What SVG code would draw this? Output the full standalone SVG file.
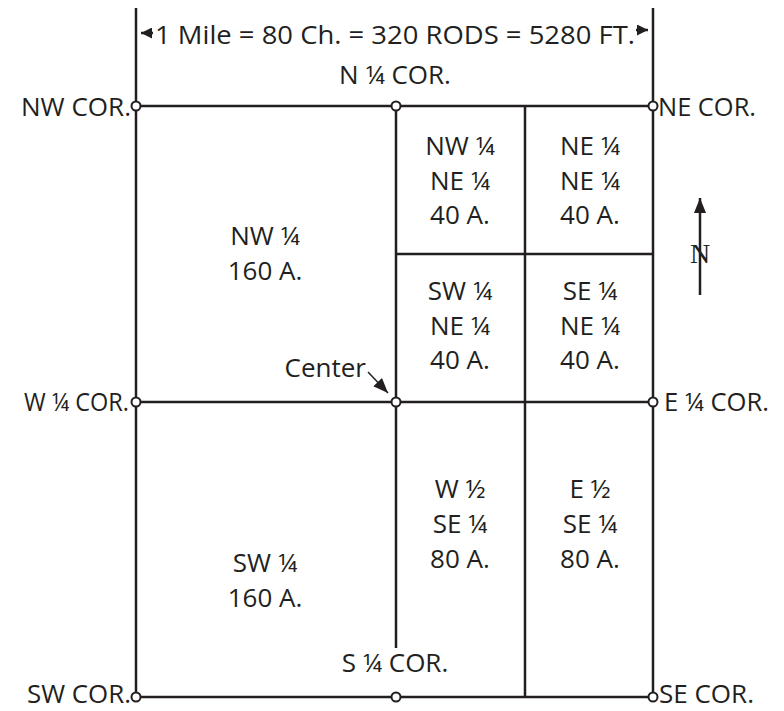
<svg xmlns="http://www.w3.org/2000/svg" width="784" height="711" viewBox="0 0 784 711">
<defs>
<style>
.l{stroke:#231f20;stroke-width:2.5;fill:none}
.c{fill:#fff;stroke:#231f20;stroke-width:2}
text{font-family:"Open Sans","Liberation Sans",sans-serif;font-size:26px;fill:#231f20}
.m{text-anchor:middle}
.e{text-anchor:end}
</style>
<marker id="ah" viewBox="0 0 10 10" refX="10" refY="5" markerWidth="11" markerHeight="11" markerUnits="userSpaceOnUse" orient="auto"><path d="M0,0 L10,5 L0,10 z" fill="#231f20"/></marker>
<marker id="ah2" viewBox="0 0 10 10" refX="10" refY="5" markerWidth="15" markerHeight="15" markerUnits="userSpaceOnUse" orient="auto"><path d="M0,1 L10,5 L0,9 z" fill="#231f20"/></marker>
</defs>
<g id="connectors">
<line class="l" x1="136" y1="8" x2="136" y2="106"/>
<line class="l" x1="653" y1="8" x2="653" y2="106"/>
<line class="l" x1="153" y1="33" x2="141" y2="33" marker-end="url(#ah)"/>
<line class="l" x1="636" y1="30" x2="648" y2="30" marker-end="url(#ah)"/>
<rect class="l" x="136" y="106" width="517" height="591"/>
<line class="l" x1="136" y1="402" x2="653" y2="402"/>
<line class="l" x1="396" y1="106" x2="396" y2="648"/>
<line class="l" x1="525" y1="106" x2="525" y2="697"/>
<line class="l" x1="396" y1="254" x2="653" y2="254"/>
<line stroke="#231f20" stroke-width="1.5" x1="368" y1="372" x2="388" y2="393" marker-end="url(#ah2)"/>
<line class="l" x1="700" y1="295" x2="700" y2="198" marker-end="url(#ah2)"/>
</g>
<g id="corners">
<circle class="c" cx="136" cy="106" r="4.5"/>
<circle class="c" cx="396" cy="106" r="4.5"/>
<circle class="c" cx="653" cy="106" r="4.5"/>
<circle class="c" cx="136" cy="402" r="4.5"/>
<circle class="c" cx="396" cy="402" r="4.5"/>
<circle class="c" cx="653" cy="402" r="4.5"/>
<circle class="c" cx="136" cy="697" r="4.5"/>
<circle class="c" cx="396" cy="697" r="4.5"/>
<circle class="c" cx="653" cy="697" r="4.5"/>
</g>
<g id="labels">
<text x="395" y="44" class="m" textLength="480" lengthAdjust="spacingAndGlyphs">1 Mile = 80 Ch. = 320 RODS = 5280 FT.</text>
<text x="395" y="84" class="m">N ¼ COR.</text>
<text x="131" y="116" class="e" textLength="110" lengthAdjust="spacingAndGlyphs">NW COR.</text>
<text x="658" y="116" textLength="98" lengthAdjust="spacingAndGlyphs">NE COR.</text>
<text x="129" y="411" class="e" textLength="105" lengthAdjust="spacingAndGlyphs">W ¼ COR.</text>
<text x="664" y="411" textLength="105" lengthAdjust="spacingAndGlyphs">E ¼ COR.</text>
<text x="131" y="703" class="e" textLength="104" lengthAdjust="spacingAndGlyphs">SW COR.</text>
<text x="659" y="703" textLength="95" lengthAdjust="spacingAndGlyphs">SE COR.</text>
<text x="395" y="672" class="m">S ¼ COR.</text>
<text x="366" y="377" class="e">Center</text>
<text x="700" y="263" class="m" style="font-family:'Liberation Serif',serif;font-size:28px">N</text>
</g>
<g id="nw-quarter"><text x="265" y="245" class="m">NW ¼</text><text x="265" y="280" class="m">160 A.</text></g>
<g id="nw-ne"><text x="460" y="155" class="m">NW ¼</text><text x="460" y="190" class="m">NE ¼</text><text x="460" y="224" class="m">40 A.</text></g>
<g id="ne-ne"><text x="590" y="155" class="m">NE ¼</text><text x="590" y="190" class="m">NE ¼</text><text x="590" y="224" class="m">40 A.</text></g>
<g id="sw-ne"><text x="460" y="300" class="m">SW ¼</text><text x="460" y="335" class="m">NE ¼</text><text x="460" y="369" class="m">40 A.</text></g>
<g id="se-ne"><text x="590" y="300" class="m">SE ¼</text><text x="590" y="335" class="m">NE ¼</text><text x="590" y="369" class="m">40 A.</text></g>
<g id="w-se"><text x="460" y="498" class="m">W ½</text><text x="460" y="533" class="m">SE ¼</text><text x="460" y="568" class="m">80 A.</text></g>
<g id="e-se"><text x="590" y="498" class="m">E ½</text><text x="590" y="533" class="m">SE ¼</text><text x="590" y="568" class="m">80 A.</text></g>
<g id="sw-quarter"><text x="265" y="572" class="m">SW ¼</text><text x="265" y="607" class="m">160 A.</text></g>
</svg>
